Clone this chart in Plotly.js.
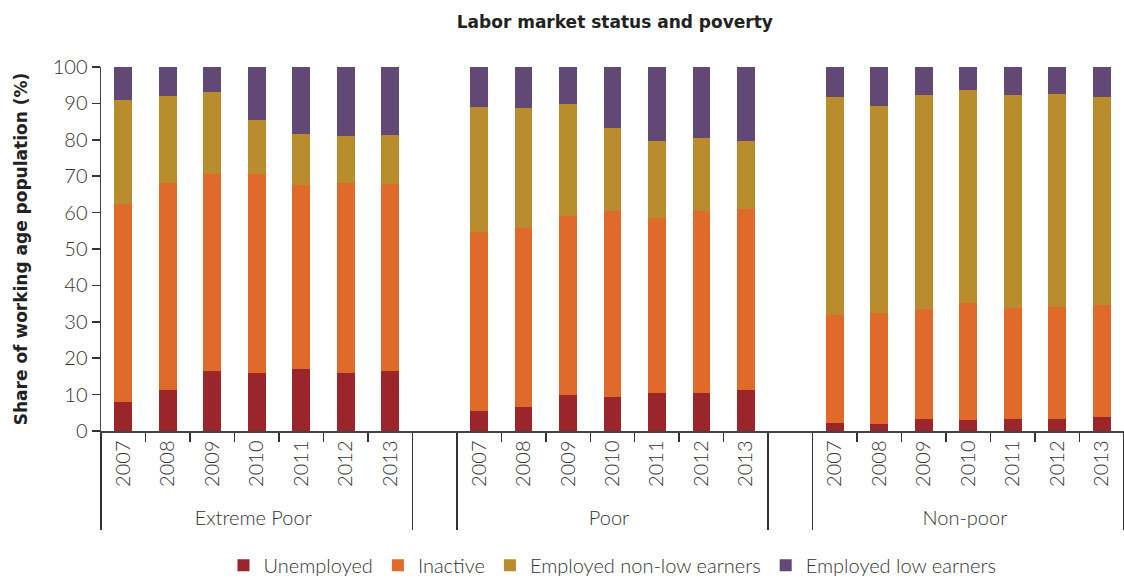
<!DOCTYPE html>
<html><head><meta charset="utf-8">
<script src="https://cdn.plot.ly/plotly-3.0.1.min.js"></script>
<style>html,body{margin:0;padding:0;background:#fff}</style>
</head><body><div id="chart" style="width:1124px;height:578px"></div>
<script>
const groups = ["Extreme Poor", "Poor", "Non-poor"];
const years = ["2007", "2008", "2009", "2010", "2011", "2012", "2013"];
const seriesNames = ["Unemployed", "Inactive", "Employed non-low earners", "Employed low earners"];
const seriesColors = ["#9A252B", "#E06A29", "#B98D2D", "#614875"];

// values per group, in year order
const unemployed = {
  "Extreme Poor": [8.0, 11.3, 16.5, 16.0, 17.1, 16.0, 16.5],
  "Poor":         [5.6, 6.7, 10.0, 9.4, 10.5, 10.5, 11.3],
  "Non-poor":     [2.3, 2.0, 3.4, 3.1, 3.4, 3.4, 3.9]
};
const inactive = {
  "Extreme Poor": [54.5, 56.8, 54.1, 54.6, 50.5, 52.1, 51.3],
  "Poor":         [49.1, 49.1, 49.0, 51.0, 48.0, 49.9, 49.7],
  "Non-poor":     [29.6, 30.3, 30.0, 32.1, 30.4, 30.7, 30.6]
};
const nonLow = {
  "Extreme Poor": [28.4, 23.9, 22.5, 14.8, 13.9, 12.9, 13.5],
  "Poor":         [34.2, 32.9, 30.8, 22.8, 21.1, 20.0, 18.6],
  "Non-poor":     [59.8, 56.9, 58.8, 58.4, 58.4, 58.4, 57.2]
};
const lowEarners = {
  "Extreme Poor": [9.1, 8.0, 6.9, 14.6, 18.5, 19.0, 18.7],
  "Poor":         [11.1, 11.3, 10.2, 16.8, 20.4, 19.6, 20.4],
  "Non-poor":     [8.3, 10.8, 7.8, 6.4, 7.8, 7.5, 8.3]
};
const seriesData = [unemployed, inactive, nonLow, lowEarners];

// build multicategory x with a blank spacer slot between groups
const gapNames = [" ", "  "];
const outer = [], inner = [];
groups.forEach((g, gi) => {
  years.forEach(y => { outer.push(g); inner.push(y); });
  if (gi < groups.length - 1) { outer.push(gapNames[gi]); inner.push(gapNames[gi]); }
});

const traces = seriesNames.map((name, si) => {
  const yv = [];
  groups.forEach((g, gi) => {
    seriesData[si][g].forEach(v => yv.push(v));
    if (gi < groups.length - 1) yv.push(null);
  });
  return {
    type: "bar", name: name, x: [outer, inner], y: yv,
    marker: { color: seriesColors[si] }, hoverinfo: "none"
  };
});

const font = "Lato, Roboto, 'Noto Sans', sans-serif";
const boldFont = "'DejaVu Sans', sans-serif";
const layout = {
  barmode: "stack",
  bargap: 0.6,
  width: 1124, height: 578,
  margin: { l: 101, r: 0, t: 67, b: 147 },
  paper_bgcolor: "#fff", plot_bgcolor: "#fff",
  font: { family: font, color: "#333", size: 20, weight: 300 },
  title: {
    text: "<b>Labor market status and poverty</b>",
    x: 0.547, xanchor: "center", y: 0.962, yanchor: "middle",
    font: { family: boldFont, size: 17, color: "#222" }
  },
  xaxis: {
    type: "multicategory",
    showline: true, linecolor: "#444", linewidth: 1.5,
    ticks: "outside", ticklen: 9, tickcolor: "#333", tickwidth: 1.5,
    tickangle: -90,
    tickfont: { family: font, size: 20, color: "#333", weight: 300 },
    showdividers: true, dividercolor: "#333", dividerwidth: 1.5,
    showgrid: false, zeroline: false
  },
  yaxis: {
    range: [0, 100], dtick: 10, tick0: 0,
    showline: true, linecolor: "#444", linewidth: 1.5,
    ticks: "outside", ticklen: 8, tickcolor: "#333", tickwidth: 1.5,
    showgrid: false, zeroline: false,
    tickfont: { family: font, size: 20, color: "#333", weight: 300 },
    title: {
      text: "<b>Share of working age population (%)</b>",
      font: { family: boldFont, size: 17, color: "#222" },
      standoff: 20
    }
  },
  legend: {
    orientation: "h", x: 0.5, xref: "paper", xanchor: "center",
    y: 0.022, yref: "container", yanchor: "middle",
    font: { family: font, size: 20, color: "#333", weight: 300 },
    traceorder: "normal", itemwidth: 30
  },
  showlegend: true
};

Plotly.newPlot("chart", traces, layout, { displayModeBar: false, staticPlot: true });
</script>
</body></html>
